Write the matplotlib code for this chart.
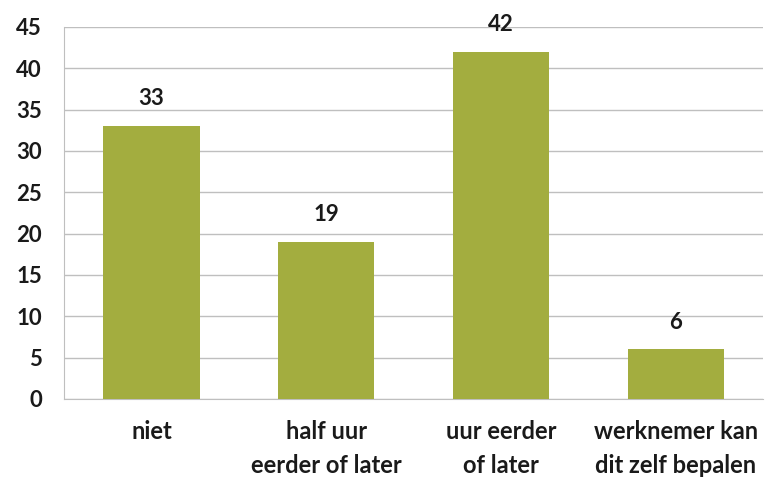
import matplotlib
matplotlib.use('Agg')
from matplotlib import pyplot as plt

categories = ['niet', 'half uur\neerder of later', 'uur eerder\nof later', 'werknemer kan\ndit zelf bepalen']
values = [33, 19, 42, 6]
yticks = [0, 5, 10, 15, 20, 25, 30, 35, 40, 45]

plt.rcParams['font.family'] = ['Lato', 'DejaVu Sans']

fig = plt.figure(figsize=(7.73, 4.80), dpi=100)
ax = fig.add_axes([0.083, 0.169, 0.904, 0.775])

x = list(range(len(values)))
bars = ax.bar(x, values, width=0.55, color='#a3ad3f', zorder=3)

for xi, v in zip(x, values):
    ax.annotate(str(v), (xi, v), xytext=(0, 12), textcoords='offset points',
                ha='center', va='bottom', fontsize=16, fontweight='bold', color='#1a1a1a')

ax.set_xlim(-0.5, len(values) - 0.5)
ax.set_ylim(0, 45)
ax.set_yticks(yticks)
ax.set_yticklabels([str(t) for t in yticks], fontsize=16, fontweight='bold', color='#1a1a1a')
ax.set_xticks(x)
ax.set_xticklabels(categories, fontsize=17, fontweight='bold', color='#1a1a1a', linespacing=1.6)

ax.yaxis.grid(True, color='#bfbfbf', linewidth=1, zorder=0)
ax.set_axisbelow(True)
for s in ['top', 'right']:
    ax.spines[s].set_visible(False)
ax.spines['left'].set_color('#bfbfbf')
ax.spines['bottom'].set_color('#bfbfbf')
ax.tick_params(axis='both', length=0)
ax.tick_params(axis='y', pad=16)
ax.tick_params(axis='x', pad=15)

plt.savefig('out.png', dpi=100)
